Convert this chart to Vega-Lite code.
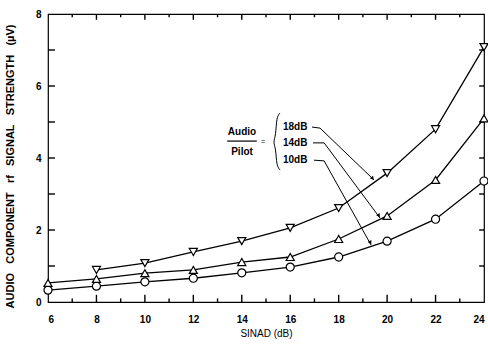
{
  "$schema": "https://vega.github.io/schema/vega-lite/v6.json",
  "width": 436,
  "height": 288,
  "autosize": {"type": "none"},
  "padding": {"left": 48, "top": 14, "right": 4, "bottom": 42},
  "background": "white",
  "config": {
    "view": {"stroke": "black", "strokeWidth": 1.2},
    "font": "Liberation Sans",
    "axis": {"grid": false, "domain": false, "labelColor": "black", "titleColor": "black"}
  },
  "datasets": {
    "series": [
      {"sinad": 6, "v": 0.33, "ratio": "10dB"}, {"sinad": 8, "v": 0.44, "ratio": "10dB"}, {"sinad": 10, "v": 0.56, "ratio": "10dB"}, {"sinad": 12, "v": 0.66, "ratio": "10dB"}, {"sinad": 14, "v": 0.81, "ratio": "10dB"}, {"sinad": 16, "v": 0.97, "ratio": "10dB"}, {"sinad": 18, "v": 1.25, "ratio": "10dB"}, {"sinad": 20, "v": 1.69, "ratio": "10dB"}, {"sinad": 22, "v": 2.3, "ratio": "10dB"}, {"sinad": 24, "v": 3.36, "ratio": "10dB"},
      {"sinad": 6, "v": 0.53, "ratio": "14dB"}, {"sinad": 8, "v": 0.64, "ratio": "14dB"}, {"sinad": 10, "v": 0.8, "ratio": "14dB"}, {"sinad": 12, "v": 0.89, "ratio": "14dB"}, {"sinad": 14, "v": 1.11, "ratio": "14dB"}, {"sinad": 16, "v": 1.25, "ratio": "14dB"}, {"sinad": 18, "v": 1.75, "ratio": "14dB"}, {"sinad": 20, "v": 2.39, "ratio": "14dB"}, {"sinad": 22, "v": 3.39, "ratio": "14dB"}, {"sinad": 24, "v": 5.1, "ratio": "14dB"},
      {"sinad": 8, "v": 0.89, "ratio": "18dB"}, {"sinad": 10, "v": 1.08, "ratio": "18dB"}, {"sinad": 12, "v": 1.39, "ratio": "18dB"}, {"sinad": 14, "v": 1.69, "ratio": "18dB"}, {"sinad": 16, "v": 2.06, "ratio": "18dB"}, {"sinad": 18, "v": 2.61, "ratio": "18dB"}, {"sinad": 20, "v": 3.58, "ratio": "18dB"}, {"sinad": 22, "v": 4.8, "ratio": "18dB"}, {"sinad": 24, "v": 7.08, "ratio": "18dB"}
    ],
    "xticks": [{"t": 7}, {"t": 8}, {"t": 9}, {"t": 10}, {"t": 11}, {"t": 12}, {"t": 13}, {"t": 14}, {"t": 15}, {"t": 16}, {"t": 17}, {"t": 18}, {"t": 19}, {"t": 20}, {"t": 21}, {"t": 22}, {"t": 23}],
    "yticks": [{"t": 1}, {"t": 2}, {"t": 3}, {"t": 4}, {"t": 5}, {"t": 6}, {"t": 7}],
    "leaders": [
      {"ratio": "18dB", "o": 1, "x": 16.9, "y": 4.86}, {"ratio": "18dB", "o": 2, "x": 17.23, "y": 4.83}, {"ratio": "18dB", "o": 3, "x": 19.46, "y": 3.39},
      {"ratio": "14dB", "o": 1, "x": 16.94, "y": 4.42}, {"ratio": "14dB", "o": 2, "x": 17.4, "y": 4.42}, {"ratio": "14dB", "o": 3, "x": 19.71, "y": 2.33},
      {"ratio": "10dB", "o": 1, "x": 16.98, "y": 3.94}, {"ratio": "10dB", "o": 2, "x": 17.4, "y": 3.92}, {"ratio": "10dB", "o": 3, "x": 19.34, "y": 1.58}
    ],
    "tips": [
      {"ratio": "18dB", "x": 19.4, "y": 3.43},
      {"ratio": "14dB", "x": 19.66, "y": 2.4},
      {"ratio": "10dB", "x": 19.31, "y": 1.65}
    ],
    "ratioLabels": [
      {"x": 15.7, "y": 4.86, "t": "18dB"},
      {"x": 15.7, "y": 4.42, "t": "14dB"},
      {"x": 15.7, "y": 3.94, "t": "10dB"}
    ],
    "fraction": [
      {"x": 14.01, "y": 4.72, "t": "Audio"},
      {"x": 14.01, "y": 4.16, "t": "Pilot"}
    ],
    "equals": [{"x": 14.88, "y": 4.44, "t": "="}],
    "bar": [{"x": 13.4, "y": 4.47, "o": 1}, {"x": 14.62, "y": 4.47, "o": 2}],
    "brace": [
      {"o": 1, "x": 15.58, "y": 5.25}, {"o": 2, "x": 15.43, "y": 5.13}, {"o": 3, "x": 15.41, "y": 4.62}, {"o": 4, "x": 15.29, "y": 4.44},
      {"o": 5, "x": 15.41, "y": 4.27}, {"o": 6, "x": 15.43, "y": 3.79}, {"o": 7, "x": 15.58, "y": 3.67}
    ]
  },
  "layer": [
    {
      "data": {"name": "series"},
      "mark": {"type": "line", "color": "black", "strokeWidth": 1.3},
      "encoding": {
        "x": {"field": "sinad", "type": "quantitative", "scale": {"domain": [6, 24], "nice": false, "zero": false},
          "axis": {"orient": "bottom", "values": [6,8,10,12,14,16,18,20,22,24], "ticks": false,
            "labelPadding": 12, "labelFontSize": 10, "labelFontWeight": "bold",
            "title": "SINAD (dB)", "titleFontSize": 10, "titleFontWeight": "normal", "titlePadding": 4}},
        "y": {"field": "v", "type": "quantitative", "scale": {"domain": [0, 8], "nice": false},
          "axis": {"orient": "left", "values": [0,2,4,6,8], "ticks": false,
            "labelPadding": 7, "labelFontSize": 10, "labelFontWeight": "bold",
            "title": "AUDIO\u00a0\u00a0 COMPONENT\u00a0\u00a0 rf\u00a0\u00a0 SIGNAL\u00a0\u00a0 STRENGTH\u00a0\u00a0 (µV)", "titleFontSize": 11, "titleFontWeight": "bold", "titlePadding": 20, "titleY": 152}},
        "detail": {"field": "ratio", "type": "nominal"}
      }
    },
    {
      "data": {"name": "xticks"},
      "transform": [{"filter": "datum.t % 2 === 0"}],
      "mark": {"type": "rule", "color": "black", "strokeWidth": 1.4},
      "encoding": {
        "x": {"field": "t", "type": "quantitative"},
        "y": {"datum": 0, "type": "quantitative"},
        "y2": {"datum": 0.2}
      }
    },
    {
      "data": {"name": "xticks"},
      "transform": [{"filter": "datum.t % 2 === 1"}],
      "mark": {"type": "rule", "color": "black", "strokeWidth": 1.4},
      "encoding": {
        "x": {"field": "t", "type": "quantitative"},
        "y": {"datum": 0, "type": "quantitative"},
        "y2": {"datum": 0.1}
      }
    },
    {
      "data": {"name": "xticks"},
      "transform": [{"filter": "datum.t % 2 === 0"}],
      "mark": {"type": "rule", "color": "black", "strokeWidth": 1.4},
      "encoding": {
        "x": {"field": "t", "type": "quantitative"},
        "y": {"datum": 8, "type": "quantitative"},
        "y2": {"datum": 7.84}
      }
    },
    {
      "data": {"name": "xticks"},
      "transform": [{"filter": "datum.t % 2 === 1"}],
      "mark": {"type": "rule", "color": "black", "strokeWidth": 1.4},
      "encoding": {
        "x": {"field": "t", "type": "quantitative"},
        "y": {"datum": 8, "type": "quantitative"},
        "y2": {"datum": 7.91}
      }
    },
    {
      "data": {"name": "yticks"},
      "mark": {"type": "rule", "color": "black", "strokeWidth": 1.4},
      "encoding": {
        "y": {"field": "t", "type": "quantitative"},
        "x": {"datum": 6, "type": "quantitative"},
        "x2": {"datum": 6.29}
      }
    },
    {
      "data": {"name": "yticks"},
      "mark": {"type": "rule", "color": "black", "strokeWidth": 1.4},
      "encoding": {
        "y": {"field": "t", "type": "quantitative"},
        "x": {"datum": 24, "type": "quantitative"},
        "x2": {"datum": 23.8}
      }
    },
    {
      "data": {"name": "series"},
      "mark": {"type": "point", "filled": true, "fill": "white", "stroke": "black", "strokeWidth": 1.2, "size": 65, "opacity": 1},
      "encoding": {
        "x": {"field": "sinad", "type": "quantitative"},
        "y": {"field": "v", "type": "quantitative"},
        "shape": {"field": "ratio", "type": "nominal", "scale": {"domain": ["10dB", "14dB", "18dB"], "range": ["circle", "triangle-up", "triangle-down"]}, "legend": null}
      }
    },
    {
      "data": {"name": "leaders"},
      "mark": {"type": "line", "color": "black", "strokeWidth": 1},
      "encoding": {
        "x": {"field": "x", "type": "quantitative"},
        "y": {"field": "y", "type": "quantitative"},
        "order": {"field": "o"},
        "detail": {"field": "ratio", "type": "nominal"}
      }
    },
    {
      "data": {"name": "tips"},
      "mark": {"type": "point", "shape": "triangle-right", "filled": true, "color": "black", "size": 18, "opacity": 1},
      "encoding": {
        "x": {"field": "x", "type": "quantitative"},
        "y": {"field": "y", "type": "quantitative"},
        "angle": {"field": "ratio", "type": "ordinal", "scale": {"domain": ["10dB", "14dB", "18dB"], "range": [61, 53, 43]}, "legend": null}
      }
    },
    {
      "data": {"name": "ratioLabels"},
      "mark": {"type": "text", "align": "left", "baseline": "middle", "fontSize": 10, "fontWeight": "bold", "color": "black"},
      "encoding": {
        "x": {"field": "x", "type": "quantitative"},
        "y": {"field": "y", "type": "quantitative"},
        "text": {"field": "t"}
      }
    },
    {
      "data": {"name": "fraction"},
      "mark": {"type": "text", "align": "center", "baseline": "middle", "fontSize": 10, "fontWeight": "bold", "color": "black"},
      "encoding": {
        "x": {"field": "x", "type": "quantitative"},
        "y": {"field": "y", "type": "quantitative"},
        "text": {"field": "t"}
      }
    },
    {
      "data": {"name": "equals"},
      "mark": {"type": "text", "align": "center", "baseline": "middle", "fontSize": 7, "color": "black"},
      "encoding": {
        "x": {"field": "x", "type": "quantitative"},
        "y": {"field": "y", "type": "quantitative"},
        "text": {"field": "t"}
      }
    },
    {
      "data": {"name": "bar"},
      "mark": {"type": "line", "color": "black", "strokeWidth": 1.2},
      "encoding": {
        "x": {"field": "x", "type": "quantitative"},
        "y": {"field": "y", "type": "quantitative"},
        "order": {"field": "o"}
      }
    },
    {
      "data": {"name": "brace"},
      "mark": {"type": "line", "color": "black", "strokeWidth": 1, "interpolate": "basis"},
      "encoding": {
        "x": {"field": "x", "type": "quantitative"},
        "y": {"field": "y", "type": "quantitative"},
        "order": {"field": "o"}
      }
    }
  ]
}
